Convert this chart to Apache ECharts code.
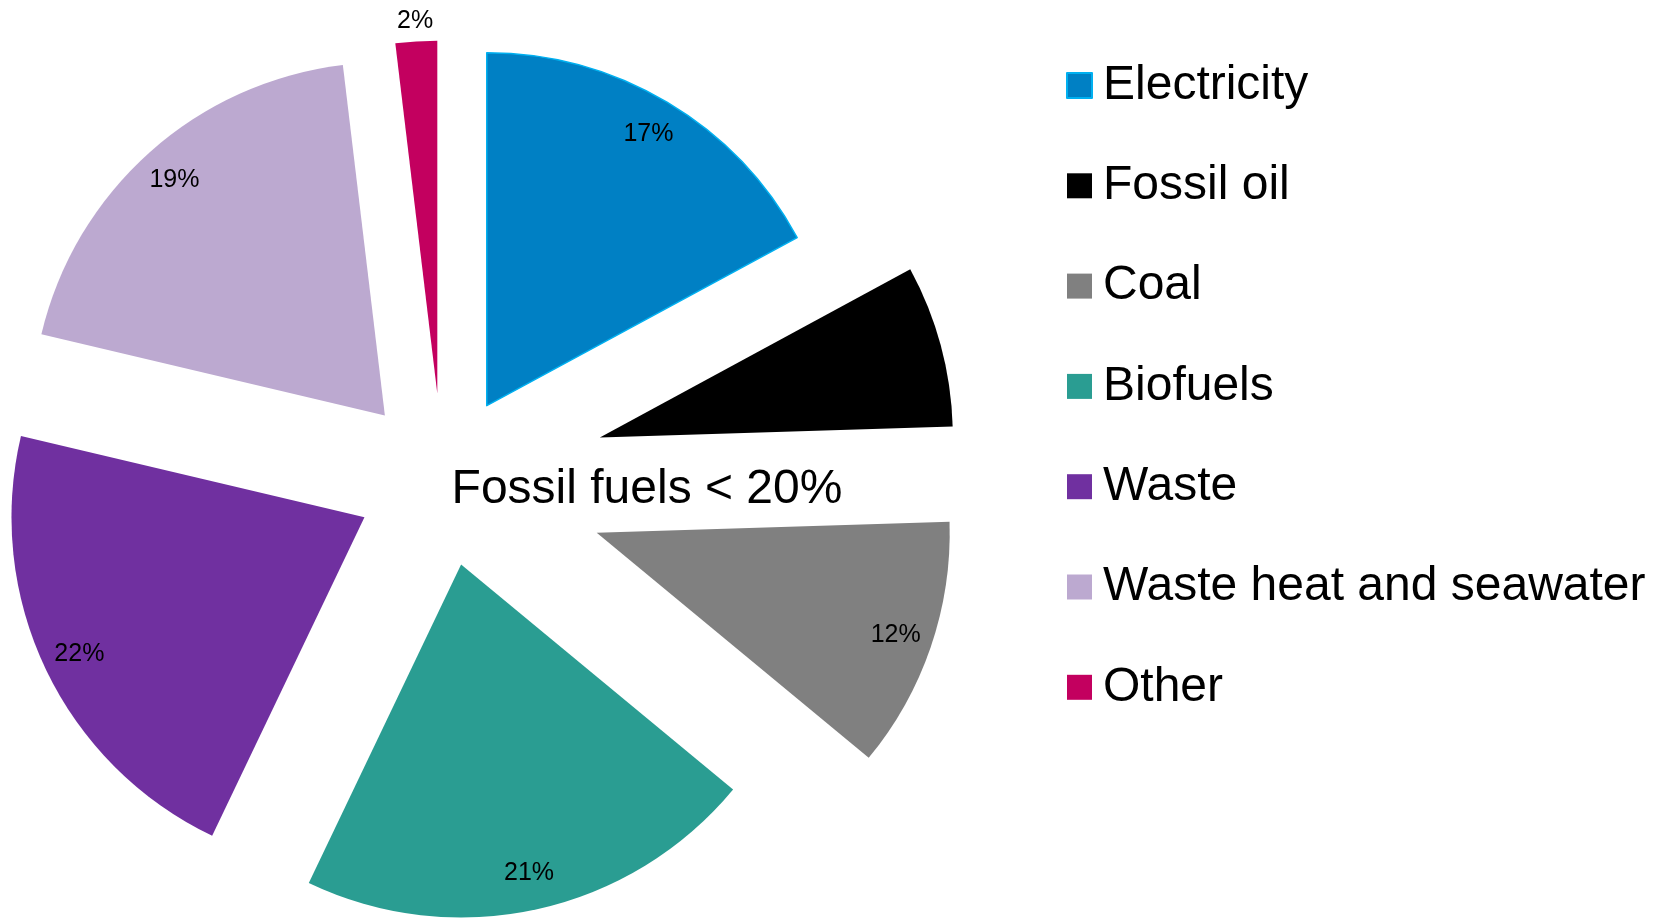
<!DOCTYPE html>
<html>
<head>
<meta charset="utf-8">
<title>Energy sources</title>
<script src="https://cdn.jsdelivr.net/npm/echarts@6/dist/echarts.min.js"></script>
<style>
  html, body { margin: 0; padding: 0; background: #fff; }
  #chart { width: 1660px; height: 918px; }
</style>
</head>
<body>
<div id="chart"></div>
<script>
var categories = ['Electricity', 'Fossil oil', 'Coal', 'Biofuels', 'Waste', 'Waste heat and seawater', 'Other'];
var shares = [17.1, 7.4, 11.5, 21.1, 21.6, 19.4, 1.9];
var isFossil = [false, true, true, false, false, false, false];
// where the percentage label goes: 'in' = inside slice, 'out' = just beyond the rim, 'none'
var labelPlace = ['in', 'none', 'in', 'in', 'in', 'in', 'out'];
var colors = ['#0080C4', '#000000', '#808080', '#2A9D92', '#7030A0', '#BCA9D0', '#C3005F'];
var centerText = 'Fossil fuels < 20%';

var FONT = "'Liberation Sans', Arial, sans-serif";
var NONE = 'rgba(0,0,0,0)';
var chart = echarts.init(document.getElementById('chart'));

function pct(p) { return Math.round(p.value) + '%'; }

// visible slices: fossil=true draws only fossil ones, false the rest
function sliceData(fossil) {
  return categories.map(function (name, i) {
    var show = isFossil[i] === fossil;
    return {
      name: name,
      value: shares[i],
      selected: true,
      itemStyle: {
        color: show ? colors[i] : NONE,
        borderColor: '#00B0F0',
        borderWidth: (show && i === 0) ? 1.5 : 0
      }
    };
  });
}

// transparent ring only used to carry the % labels
function labelData(fossil, place) {
  return categories.map(function (name, i) {
    return {
      name: name,
      value: shares[i],
      selected: true,
      itemStyle: { color: NONE, borderWidth: 0 },
      label: { show: isFossil[i] === fossil && labelPlace[i] === place }
    };
  });
}

function pieSeries(data, offset, radius) {
  return {
    type: 'pie',
    center: [442.5, 480],
    radius: radius,
    startAngle: 90,
    clockwise: true,
    selectedMode: 'multiple',
    selectedOffset: offset,
    avoidLabelOverlap: false,
    emphasis: { disabled: true },
    label: {
      show: false,
      position: 'inside',
      formatter: pct,
      color: '#000',
      fontSize: 25,
      fontFamily: FONT
    },
    labelLine: { show: false },
    data: data
  };
}

var option = {
  animation: false,
  backgroundColor: '#fff',
  legend: {
    orient: 'vertical',
    left: 1066,
    top: 61.5,
    padding: 0,
    itemWidth: 25,
    itemHeight: 25,
    itemGap: 52.3,
    selectedMode: false,
    icon: 'rect',
    textStyle: { fontSize: 48, fontFamily: FONT, color: '#000', padding: [0, 0, 0, 6] },
    data: categories.map(function (name, i) {
      return {
        name: name,
        itemStyle: {
          color: colors[i],
          opacity: 1,
          borderColor: '#00B0F0',
          borderWidth: i === 0 ? 2 : 0
        }
      };
    })
  },
  graphic: [{
    type: 'text',
    x: 647,
    y: 490,
    style: {
      text: centerText,
      fontSize: 48,
      fontFamily: FONT,
      fill: '#000',
      align: 'center',
      verticalAlign: 'middle'
    }
  }],
  series: [
    pieSeries(sliceData(false), 86.5, [0, 353]),
    pieSeries(sliceData(true), 163, [0, 353]),
    pieSeries(labelData(false, 'in'), 86.5, [273, 353]),
    pieSeries(labelData(true, 'in'), 163, [273, 353]),
    pieSeries(labelData(false, 'out'), 86.5, [353, 387])
  ]
};
chart.setOption(option);
</script>
</body>
</html>
